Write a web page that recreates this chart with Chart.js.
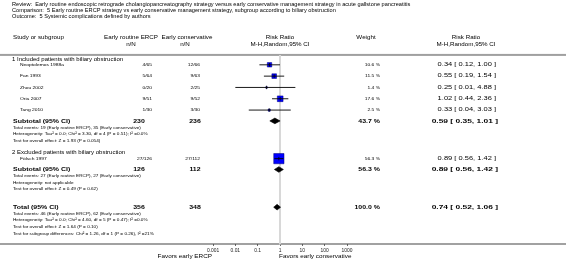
<!DOCTYPE html>
<html>
<head>
<meta charset="utf-8">
<script src="https://cdn.jsdelivr.net/npm/chart.js@4"></script>
<style>
  body { margin: 0; background: #fff; }
  canvas { display: block; }
</style>
</head>
<body>
<canvas id="forest" width="566" height="272"></canvas>
<script>
// ---- data ----
const titleLines = [
  'Review:  Early routine endoscopic retrograde cholangiopancreatography strategy versus early conservative management strategy in acute gallstone pancreatitis',
  'Comparison:  5 Early routine ERCP strategy vs early conservative management strategy, subgroup according to biliary obstruction',
  'Outcome:  5 Systemic complications defined by authors'
];
const subgroupNames = ['1 Included patients with biliary obstruction', '2 Excluded patients with biliary obstruction'];
const studies = ['Neoptolemos 1988a', 'Fan 1993', 'Zhou 2002', 'Oria 2007', 'Tang 2010', 'Fölsch 1997'];
const studyGroup = [0, 0, 0, 0, 0, 1];
const ercpEvents = [4, 5, 0, 9, 1, 27];
const ercpTotal = [65, 64, 20, 51, 30, 126];
const consEvents = [12, 9, 2, 9, 3, 27];
const consTotal = [66, 63, 25, 52, 30, 112];
const weights = [10.6, 11.5, 1.4, 17.6, 2.5, 56.3];
const rr = [0.34, 0.55, 0.25, 1.02, 0.33, 0.89];
const rrLow = [0.12, 0.19, 0.01, 0.44, 0.04, 0.56];
const rrHigh = [1.00, 1.54, 4.88, 2.36, 3.03, 1.42];

const subErcpN = [230, 126];
const subConsN = [236, 112];
const subWeight = [43.7, 56.3];
const subRR = [0.59, 0.89];
const subLow = [0.35, 0.56];
const subHigh = [1.01, 1.42];
const subNotes = [
  ['Total events: 19 (Early routine ERCP), 35 (Early conservative)',
   'Heterogeneity: Tau² = 0.0; Chi² = 3.30, df = 4 (P = 0.51); I² =0.0%',
   'Test for overall effect: Z = 1.93 (P = 0.054)'],
  ['Total events: 27 (Early routine ERCP), 27 (Early conservative)',
   'Heterogeneity: not applicable',
   'Test for overall effect: Z = 0.49 (P = 0.62)']
];
const totalN = [356, 348];
const totalWeight = 100.0;
const totalRR = [0.74, 0.52, 1.06];
const totalNotes = [
  'Total events: 46 (Early routine ERCP), 62 (Early conservative)',
  'Heterogeneity: Tau² = 0.0; Chi² = 4.60, df = 5 (P = 0.47); I² =0.0%',
  'Test for overall effect: Z = 1.64 (P = 0.10)',
  'Test for subgroup differences: Chi² = 1.26, df = 1 (P = 0.26), I² =21%'
];
const tickValues = [0.001, 0.01, 0.1, 1, 10, 100, 1000];
const favorLabels = ['Favors early ERCP', 'Favors early conservative'];

// ---- layout ----
const W = 566, H = 272;
const PLOT_L = 213, PLOT_R = 347;
const HEAD_LINE = 50, AXIS_Y = 251;
const FONT = '"Liberation Sans", Arial, Helvetica, sans-serif';
const SX = 1.2;
const COL = { name: 13, study: 20, ercp: 152, ercpTot: 139, cons: 200, consTot: 195, weight: 380, rr: 496 };
const HEAD = { ercp: 131, cons: 187, weight: 366, rr: 466 };

// rows of the table, top to bottom
const rows = [];
let y = 54.5;
subgroupNames.forEach((name, g) => {
  rows.push({ kind: 'group', y, text: name });
  let first = true;
  studies.forEach((s, i) => {
    if (studyGroup[i] !== g) return;
    y += first ? 6 : 12;
    first = false;
    rows.push({ kind: 'study', y, i });
  });
  y += 11.5;
  rows.push({ kind: 'subtotal', y, g });
  subNotes[g].forEach(t => { y += 7; rows.push({ kind: 'note', y, text: t }); });
  y += 13;
});
y += 6;
rows.push({ kind: 'total', y });
totalNotes.forEach(t => { y += 7; rows.push({ kind: 'note', y, text: t }); });

const fmt = v => v.toFixed(2);
const ciText = (e, l, h) => fmt(e) + ' [ ' + fmt(l) + ', ' + fmt(h) + ' ]';

// ---- datasets ----
const datasets = [];
datasets.push({
  data: [{ x: 1, y: HEAD_LINE }, { x: 1, y: AXIS_Y }],
  showLine: true, borderColor: '#d8d8d8', borderWidth: 2, pointRadius: 0, order: 9
});
const studyRows = rows.filter(r => r.kind === 'study');
studyRows.forEach(r => {
  datasets.push({
    data: [{ x: rrLow[r.i], y: r.y }, { x: rrHigh[r.i], y: r.y }],
    showLine: true, borderColor: '#000', borderWidth: 0.9, pointRadius: 0, order: 2
  });
});
datasets.push({
  data: studyRows.map(r => ({ x: rr[r.i], y: r.y })),
  pointStyle: 'rect',
  pointRadius: studyRows.map(r => 1.37 * Math.sqrt(weights[r.i]) / Math.SQRT2),
  backgroundColor: '#0000ff', borderColor: '#00007a', borderWidth: 0.5, order: 3
});
datasets.push({
  data: studyRows.map(r => ({ x: rr[r.i], y: r.y })),
  pointStyle: 'line', pointRotation: 90, pointRadius: 1.7,
  borderColor: '#000', borderWidth: 0.8, order: 1
});
function diamond(est, lo, hi, yy) {
  return {
    data: [{ x: lo, y: yy }, { x: est, y: yy - 3 }, { x: hi, y: yy }, { x: est, y: yy + 3 }, { x: lo, y: yy }],
    showLine: true, fill: 'shape', tension: 0, pointRadius: 0,
    backgroundColor: '#000', borderColor: '#000', borderWidth: 0.6, order: 1
  };
}
rows.filter(r => r.kind === 'subtotal').forEach(r => datasets.push(diamond(subRR[r.g], subLow[r.g], subHigh[r.g], r.y)));
rows.filter(r => r.kind === 'total').forEach(r => datasets.push(diamond(totalRR[0], totalRR[1], totalRR[2], r.y)));

// ---- text ----
function txt(ctx, s, x, yy, o) {
  o = o || {};
  ctx.save();
  ctx.font = (o.bold ? 'bold ' : '') + (o.size || 4) + 'px ' + FONT;
  ctx.fillStyle = o.color || '#000';
  ctx.textBaseline = 'middle';
  ctx.textAlign = o.align || 'left';
  ctx.translate(x, yy);
  ctx.scale(o.sx || SX, 1);
  ctx.fillText(s, 0, 0);
  ctx.restore();
}

const tablePlugin = {
  id: 'forestTable',
  beforeDatasetsDraw(chart) {
    const ctx = chart.ctx;
    const ys = chart.scales.y;
    ctx.save();
    ctx.fillStyle = '#a0a0a0';
    ctx.fillRect(0, ys.getPixelForValue(HEAD_LINE) - 1, W, 2);
    ctx.fillStyle = '#444';
    ctx.fillRect(0, Math.round(ys.getPixelForValue(AXIS_Y)) - 0.5, W, 1);
    ctx.restore();
  },
  afterDatasetsDraw(chart) {
    const ctx = chart.ctx;
    const ys = chart.scales.y, xs = chart.scales.x;
    const py = v => ys.getPixelForValue(v);
    const mid = xs.getPixelForValue(1);

    titleLines.forEach((t, k) => txt(ctx, t, 12, 5 + k * 6, { size: 4.7 }));

    const h1 = 38, h2 = 44.5, hs = 5.2;
    txt(ctx, 'Study or subgroup', COL.name, h1, { size: hs });
    txt(ctx, 'Early routine ERCP', HEAD.ercp, h1, { size: hs, align: 'center' });
    txt(ctx, 'n/N', HEAD.ercp, h2, { size: hs, align: 'center' });
    txt(ctx, 'Early conservative', HEAD.cons, h1, { size: hs, align: 'center' });
    txt(ctx, 'n/N', HEAD.cons - 2, h2, { size: hs, align: 'center' });
    txt(ctx, 'Risk Ratio', mid, h1, { size: hs, align: 'center' });
    txt(ctx, 'M-H,Random,95% CI', mid, h2, { size: hs, align: 'center' });
    txt(ctx, 'Weight', HEAD.weight, h1, { size: hs, align: 'center' });
    txt(ctx, 'Risk Ratio', HEAD.rr, h1, { size: hs, align: 'center' });
    txt(ctx, 'M-H,Random,95% CI', HEAD.rr, h2, { size: hs, align: 'center' });

    rows.forEach(r => {
      const yy = py(r.y);
      if (r.kind === 'group') {
        txt(ctx, r.text, 12, yy, { size: 5.0 });
      } else if (r.kind === 'study') {
        const i = r.i, s = 4.1;
        txt(ctx, studies[i], COL.study, yy, { size: s });
        txt(ctx, ercpEvents[i] + '/' + ercpTotal[i], COL.ercp, yy, { size: s, align: 'right' });
        txt(ctx, consEvents[i] + '/' + consTotal[i], COL.cons, yy, { size: s, align: 'right' });
        txt(ctx, weights[i].toFixed(1) + ' %', COL.weight, yy, { size: s, align: 'right' });
        txt(ctx, ciText(rr[i], rrLow[i], rrHigh[i]), COL.rr, yy, { size: 4.7, align: 'right', sx: 1.6 });
      } else if (r.kind === 'subtotal' || r.kind === 'total') {
        const isSub = r.kind === 'subtotal';
        const o = { size: 5.8, bold: true };
        txt(ctx, isSub ? 'Subtotal (95% CI)' : 'Total (95% CI)', COL.name, yy, o);
        txt(ctx, String(isSub ? subErcpN[r.g] : totalN[0]), COL.ercpTot, yy, { ...o, align: 'center' });
        txt(ctx, String(isSub ? subConsN[r.g] : totalN[1]), COL.consTot, yy, { ...o, align: 'center' });
        txt(ctx, (isSub ? subWeight[r.g] : totalWeight).toFixed(1) + ' %', COL.weight, yy, { ...o, align: 'right' });
        const t = isSub ? ciText(subRR[r.g], subLow[r.g], subHigh[r.g]) : ciText(totalRR[0], totalRR[1], totalRR[2]);
        txt(ctx, t, COL.rr + 2, yy, { ...o, align: 'right', sx: 1.45 });
      } else {
        txt(ctx, r.text, COL.name, yy, { size: 3.9 });
      }
    });

    const fy = py(AXIS_Y) + 12;
    txt(ctx, favorLabels[0], PLOT_L - 1, fy, { size: 5.3, align: 'right' });
    txt(ctx, favorLabels[1], mid - 1, fy, { size: 5.3 });
  }
};

new Chart(document.getElementById('forest'), {
  type: 'scatter',
  data: { datasets },
  options: {
    responsive: false,
    animation: false,
    events: [],
    layout: { padding: { left: PLOT_L, right: W - PLOT_R, top: 0, bottom: 0 } },
    plugins: { legend: { display: false }, tooltip: { enabled: false } },
    scales: {
      x: {
        type: 'logarithmic',
        min: tickValues[0],
        max: tickValues[tickValues.length - 1],
        position: { y: AXIS_Y },
        afterBuildTicks: s => { s.ticks = tickValues.map(v => ({ value: v })); },
        ticks: {
          autoSkip: false, maxRotation: 0, padding: 1, color: '#222',
          font: { family: FONT, size: 4.9 },
          callback: v => String(v)
        },
        grid: { drawOnChartArea: false, drawTicks: true, tickLength: 2, color: '#444', lineWidth: 0.8 },
        border: { display: false }
      },
      y: { type: 'linear', min: 0, max: H, reverse: true, display: false }
    }
  },
  plugins: [tablePlugin]
});
</script>
</body>
</html>
